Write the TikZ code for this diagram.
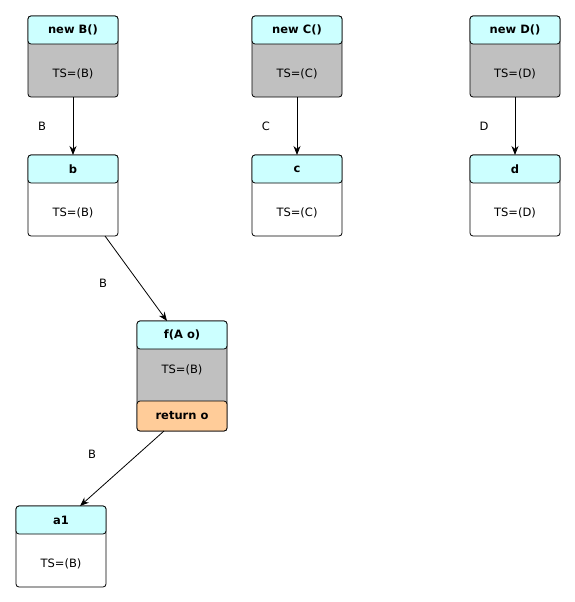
\documentclass[tikz,border=0pt]{standalone}
\usepackage{fontspec}
\setmainfont{DejaVu Sans}
\usetikzlibrary{arrows.meta}
\definecolor{hdrcyan}{HTML}{CCFFFF}
\definecolor{bodygray}{HTML}{C0C0C0}
\definecolor{retorange}{HTML}{FFCC99}
\tikzset{
  boxframe/.style={draw, line width=0.8pt, rounded corners=3pt, minimum width=90pt, inner sep=0pt, outer sep=0pt},
  hdrpart/.style={boxframe, fill=hdrcyan, minimum height=28pt, font=\fontsize{11.5}{13}\selectfont\bfseries},
  retpart/.style={boxframe, fill=retorange, minimum height=30pt, font=\fontsize{11.5}{13}\selectfont\bfseries},
  bodytext/.style={font=\fontsize{11.5}{13}\selectfont, inner sep=0pt},
  edgelabel/.style={font=\fontsize{11.5}{13}\selectfont, inner sep=0pt},
  arr/.style={line width=0.8pt, -{Stealth[length=9pt,width=7pt]}},
}
% #1 name, #2 centre x, #3 top y, #4 height, #5 body fill, #6 title, #7 body text
\newcommand\objbox[7]{%
  \node[boxframe, fill=#5, minimum height=#4pt] (#1) at (#2, #3+#4/2) {};
  \node[hdrpart, anchor=north] (#1-h) at (#1.north) {#6};
  \node[bodytext] (#1-t) at (#2, #3+57.5) {#7};
}
\begin{document}
\begin{tikzpicture}[x=1pt, y=-1pt]
\useasboundingbox (0,0) rectangle (575,602);
\objbox{newb}{73}{16}{81}{bodygray}{new B()}{TS=(B)}
\objbox{newc}{297}{16}{81}{bodygray}{new C()}{TS=(C)}
\objbox{newd}{515}{16}{81}{bodygray}{new D()}{TS=(D)}
\objbox{b}{73}{155}{81}{white}{b}{TS=(B)}
\objbox{c}{297}{155}{81}{white}{c}{TS=(C)}
\objbox{d}{515}{155}{81}{white}{d}{TS=(D)}
% method node: header, state, return slot
\node[boxframe, fill=bodygray, minimum height=110pt] (f) at (182, 376) {};
\node[hdrpart, anchor=north] (f-h) at (f.north) {f(A o)};
\node[retpart, anchor=south] (f-r) at (f.south) {return o};
\node[bodytext] (f-t) at (182, 369.5) {TS=(B)};
\objbox{a1}{61}{506}{81}{white}{a1}{TS=(B)}
% flows
\draw[arr] (newb) -- (b);
\draw[arr] (newc) -- (c);
\draw[arr] (newd) -- (d);
\draw[arr] ([xshift=32pt]b.south) -- ([xshift=-15pt]f.north);
\draw[arr] ([xshift=-18pt]f.south) -- ([xshift=19pt]a1.north);
\node[edgelabel] (lb1) at (42,126) {B};
\node[edgelabel] (lc) at (266,126) {C};
\node[edgelabel] (ld) at (484,126) {D};
\node[edgelabel] (lb2) at (103,283) {B};
\node[edgelabel] (lb3) at (92,454) {B};
\end{tikzpicture}
\end{document}
